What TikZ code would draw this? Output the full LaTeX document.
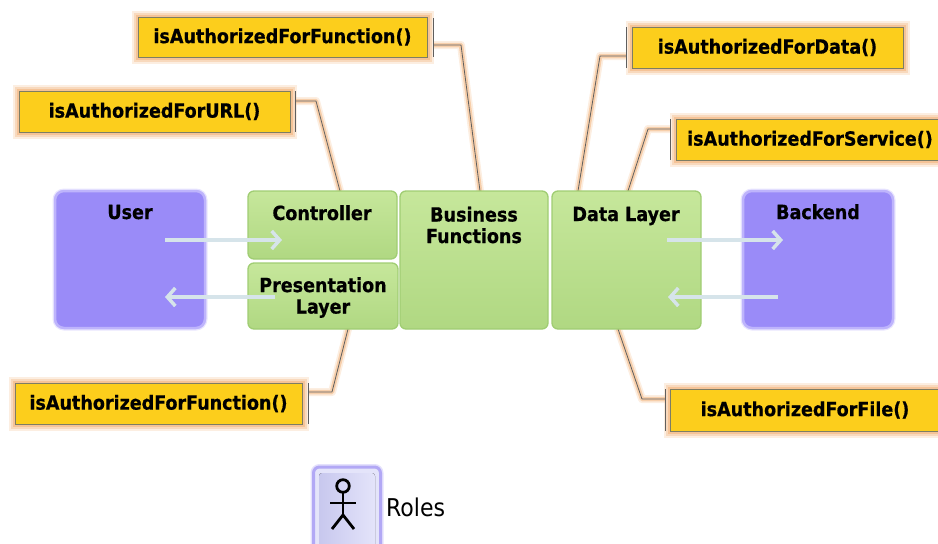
\documentclass[tikz,border=0pt]{standalone}
\usepackage{fontspec}
\setmainfont{DejaVu Sans}
\newfontfamily\condf{DejaVu Sans Condensed}
\newfontfamily\condb{DejaVu Sans Condensed Bold}[FakeBold=0.6]
\usetikzlibrary{arrows.meta,calc}
\definecolor{purp}{RGB}{154,139,248}
\definecolor{purpedge}{RGB}{190,180,252}
\definecolor{grntop}{RGB}{198,231,155}
\definecolor{grnbot}{RGB}{176,216,130}
\definecolor{grnedge}{RGB}{160,205,115}
\definecolor{yel}{RGB}{252,206,28}
\definecolor{yedge}{RGB}{125,125,100}
\definecolor{halo}{RGB}{243,186,135}
\definecolor{connc}{RGB}{95,95,95}
\definecolor{arrc}{RGB}{214,228,234}
\definecolor{iconedge}{RGB}{178,168,245}
\definecolor{iconfill}{RGB}{228,228,250}
\definecolor{iconL}{RGB}{200,200,238}
\definecolor{iconR}{RGB}{228,228,250}
\begin{document}
\begin{tikzpicture}[x=1pt,y=-1pt,
  lbl/.style={font=\condb\fontsize{19.5}{21.5}\selectfont, inner sep=0pt, align=center},
  purplebox/.style={draw=purpedge, line width=2.5pt, fill=purp, rounded corners=9pt, inner sep=0pt,
     preaction={draw=purpedge, line width=5pt, opacity=0.35}},
  greenbox/.style={draw=grnedge, line width=1.3pt, top color=grntop, bottom color=grnbot, rounded corners=6pt, inner sep=0pt},
  yelbox/.style={fill=yel, draw=yedge, line width=0.9pt, minimum height=41pt, inner sep=0pt,
     font=\condb\fontsize{19.5}{21.5}\selectfont,
     preaction={draw=halo, line width=13pt, opacity=0.25},
     preaction={draw=halo, line width=9pt, opacity=0.4},
     preaction={draw=halo, line width=5pt, opacity=0.7}},
  connglow/.style={draw=halo, line join=round},
  conn/.style={draw=connc, line width=0.8pt, line join=round},
  flow/.style={draw=arrc, line width=3.5pt, -{Straight Barb[length=8pt,width=18pt]}},
]
\useasboundingbox (0,0) rectangle (938,544);

% ---- connector coordinates
\coordinate (tfB) at (433,45);  \coordinate (tfA) at (461,45);  \coordinate (tfE) at (480,191);
\coordinate (urB) at (295,101); \coordinate (urA) at (316,101); \coordinate (urE) at (340,191);
\coordinate (daB) at (626,56);  \coordinate (daA) at (600,56);  \coordinate (daE) at (578,191);
\coordinate (seB) at (670,129); \coordinate (seA) at (648,129); \coordinate (seE) at (628,191);
\coordinate (bfB) at (308,392); \coordinate (bfA) at (332,392); \coordinate (bfE) at (348,329);
\coordinate (fiB) at (665,399); \coordinate (fiA) at (642,399); \coordinate (fiE) at (618,329);

\foreach \p in {tf,ur,da,se,bf,fi}{
  \draw[connglow, line width=8pt, opacity=0.25] (\p B) -- (\p A) -- (\p E);
  \draw[connglow, line width=4.5pt, opacity=0.6] (\p B) -- (\p A) -- (\p E);
}

% ---- yellow boxes
\node[yelbox, minimum width=289pt, minimum height=40pt] (yfun) at (282.5,37) {isAuthorizedForFunction()};
\node[yelbox, minimum width=271pt] (yurl) at (154.5,111.5) {isAuthorizedForURL()};
\node[yelbox, minimum width=271pt] (ydat) at (767.5,47.5) {isAuthorizedForData()};
\node[yelbox, minimum width=268pt] (yser) at (810,139.5) {isAuthorizedForService()};
\node[yelbox, minimum width=287pt] (ybfn) at (158.5,403.5) {isAuthorizedForFunction()};
\node[yelbox, minimum width=270pt, minimum height=42pt] (yfil) at (805,410) {isAuthorizedForFile()};

% ---- brackets and connector lines
\draw[conn] (433,18) -- (433,57);
\draw[conn] (295,91) -- (295,132);
\draw[conn] (626,27) -- (626,68);
\draw[conn] (670,119) -- (670,160);
\draw[conn] (308,383) -- (308,424);
\draw[conn] (665,389) -- (665,431);
\foreach \p in {tf,ur,da,se,bf,fi}{
  \draw[conn] (\p B) -- (\p A) -- (\p E);
}

% ---- main boxes
\node[purplebox, minimum width=150pt, minimum height=137pt] (user) at (130,259.5) {};
\node[greenbox, minimum width=149pt, minimum height=68pt] (ctrl) at (322.5,225) {};
\node[greenbox, minimum width=150pt, minimum height=66pt] (pres) at (323,296) {};
\node[greenbox, minimum width=148pt, minimum height=138pt] (bfun) at (474,260) {};
\node[greenbox, minimum width=149pt, minimum height=138pt] (dlay) at (626.5,260) {};
\node[purplebox, minimum width=150pt, minimum height=137pt] (back) at (818,259.5) {};

\node[lbl, anchor=base] (tuser) at (130,219) {User};
\node[lbl, anchor=base] (tctrl) at (322,220) {Controller};
\node[lbl] (tpres) at (323,297.5) {Presentation\\Layer};
\node[lbl] (tbfun) at (474,225) {Business\\Functions};
\node[lbl, anchor=base] (tdlay) at (626,221) {Data Layer};
\node[lbl, anchor=base] (tback) at (818,219) {Backend};

% ---- flow arrows
\coordinate (a1s) at (165,240); \coordinate (a1e) at (282,240);
\coordinate (a2s) at (275,297); \coordinate (a2e) at (165,297);
\coordinate (a3s) at (667,240); \coordinate (a3e) at (783,240);
\coordinate (a4s) at (778,297); \coordinate (a4e) at (668,297);
\draw[flow] (a1s) -- (a1e);
\draw[flow] (a2s) -- (a2e);
\draw[flow] (a3s) -- (a3e);
\draw[flow] (a4s) -- (a4e);

% ---- roles icon
\node[draw=iconedge, line width=3pt, fill=iconfill, rounded corners=6pt,
      preaction={draw=iconedge, line width=6pt, opacity=0.35},
      minimum width=67pt, minimum height=84pt, inner sep=0pt] (icon) at (347,509) {};
\fill[left color=iconL, right color=iconR, rounded corners=3pt]
   (319,473) rectangle (375,552);
\draw[line width=2.8pt, black] (343,486) circle (6.3pt);
\draw[line width=2.8pt, black, line cap=butt] (330,503) -- (356,503);
\draw[line width=2.8pt, black] (343,492.5) -- (343,515);
\draw[line width=2.8pt, black, line join=miter] (332,529) -- (343,515) -- (354,529);
\node[font=\condf\fontsize{24.5}{27}\selectfont, anchor=west, inner sep=0pt] (roles) at (386,507) {Roles};
\end{tikzpicture}
\end{document}
